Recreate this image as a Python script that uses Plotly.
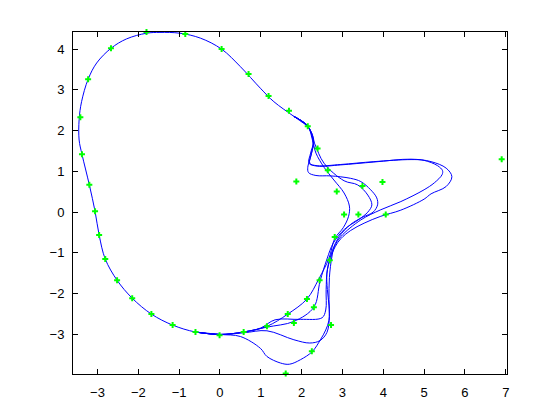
import plotly.graph_objects as go

# common body of the contour (from upper-right, over the top, down the left, to bottom)
body_x = [2.15, 1.81, 1.32, 0.99, 0.50, 0.04, -0.48, -0.98, -1.47, -1.80, -2.29, -2.67, -3.02, -3.23,
          -3.39, -3.45, -3.45, -3.38, -3.20, -3.06, -2.96, -2.81, -2.52, -2.15, -1.68, -1.16, -0.60, 0.00]
body_y = [2.11, 2.35, 2.71, 3.04, 3.57, 4.00, 4.27, 4.39, 4.41, 4.39, 4.25, 4.02, 3.66, 3.26,
          2.71, 2.27, 1.77, 1.42, 0.67, 0.02, -0.56, -1.15, -1.67, -2.11, -2.50, -2.77, -2.94, -3.00]

# variant parts (from bottom (0,-3) around the right side back to (2.15, 2.11))
v1_x = [0.58, 1.15, 1.66, 2.13, 2.42, 2.67, 2.81, 3.02, 3.15, 3.17, 3.04, 2.79, 2.55, 2.35, 2.27, 2.15]
v1_y = [-2.94, -2.80, -2.50, -2.13, -1.64, -1.13, -0.65, -0.38, -0.10, 0.15, 0.47, 0.79, 1.10, 1.45, 1.75, 2.11]

v2_x = [0.58, 1.15, 1.81, 2.30, 2.45, 2.62, 2.78, 3.05, 3.40, 3.62, 3.72, 3.62, 3.37, 3.04, 2.55, 2.32, 2.15]
v2_y = [-2.94, -2.82, -2.68, -2.33, -1.70, -1.15, -0.75, -0.42, -0.18, 0.00, 0.18, 0.42, 0.67, 0.77, 1.20, 1.68, 2.11]

v3_x = [0.58, 1.00, 1.35, 1.97, 2.50, 2.59, 2.60, 2.63, 2.75, 2.92, 3.20, 3.50, 3.75, 3.86, 3.84, 3.69,
        3.45, 3.20, 2.71, 2.35, 2.17, 2.15, 2.22, 2.28, 2.15]
v3_y = [-2.94, -2.84, -2.64, -2.63, -2.59, -2.40, -1.90, -1.40, -0.95, -0.60, -0.30, -0.12, 0.00, 0.18,
        0.35, 0.55, 0.75, 0.83, 0.89, 0.90, 0.97, 1.10, 1.35, 1.70, 2.11]

v4_x = [0.58, 1.15, 1.81, 2.20, 2.45, 2.62, 2.68, 2.67, 2.68, 2.74, 2.80, 2.96, 3.45, 3.94, 4.43, 5.00,
        5.25, 5.44, 5.45, 5.33, 5.00, 4.68, 3.77, 2.96, 2.38, 2.20, 2.24, 2.30, 2.15]
v4_y = [-2.96, -2.91, -3.13, -3.21, -3.15, -2.95, -2.56, -2.14, -1.60, -1.10, -0.85, -0.60, -0.19, 0.06,
        0.26, 0.55, 0.72, 0.92, 1.02, 1.14, 1.27, 1.29, 1.24, 1.17, 1.14, 1.20, 1.45, 1.75, 2.11]

v5_x = [0.50, 0.99, 1.15, 1.48, 1.70, 1.97, 2.26, 2.46, 2.59, 2.67, 2.67, 2.63, 2.62, 2.70, 2.82, 2.96,
        3.20, 3.53, 3.94, 4.43, 5.00, 5.17, 5.54, 5.68, 5.54, 5.17, 4.68, 3.77, 2.96, 2.38, 2.18, 2.22,
        2.29, 2.15]
v5_y = [-3.05, -3.34, -3.54, -3.70, -3.73, -3.62, -3.42, -3.13, -2.89, -2.65, -2.30, -1.90, -1.50, -1.15,
        -0.85, -0.65, -0.45, -0.27, -0.10, 0.05, 0.32, 0.45, 0.63, 0.87, 1.08, 1.24, 1.30, 1.23, 1.16,
        1.13, 1.20, 1.45, 1.75, 2.11]

# landmark points (green)
pts_x = [-1.80, -0.85, -2.67, 0.04, -3.23, 0.70, 1.19, 1.69, 2.15, -3.42, -3.38, -3.20, -3.06, 1.87,
         2.39, 2.64, 2.86, 3.49, 3.98, 3.04, 3.39, 4.06, 6.90, 2.81, 2.69, 2.44, 2.13, -2.96, -2.81,
         -2.52, -2.15, -1.68, -1.16, -0.60, -0.01, 0.58, 1.15, 1.66, 1.81, 2.30, 2.72, 2.25, 1.61]
pts_y = [4.42, 4.37, 4.02, 4.00, 3.26, 3.39, 2.85, 2.49, 2.11, 2.33, 1.42, 0.67, 0.02, 0.75,
         1.56, 1.03, 0.51, 0.64, 0.74, -0.06, -0.06, -0.06, 1.30, -0.61, -1.18, -1.67, -2.13, -0.56, -1.15,
         -1.67, -2.11, -2.50, -2.77, -2.94, -3.02, -2.94, -2.80, -2.50, -2.72, -2.33, -2.77, -3.41, -3.96]

x_ticks = [-3, -2, -1, 0, 1, 2, 3, 4, 5, 6, 7]
y_ticks = [-3, -2, -1, 0, 1, 2, 3, 4]

line_style = dict(color="#0000ff", width=1, shape="spline", smoothing=1.0)
fig = go.Figure()
# shared body drawn once
fig.add_trace(go.Scatter(x=body_x, y=body_y, mode="lines", line=line_style,
                         hoverinfo="skip", showlegend=False))
# each variant starts with the last body points and ends with the first ones, for smooth joins
for vx, vy in [(v1_x, v1_y), (v2_x, v2_y), (v3_x, v3_y), (v4_x, v4_y), (v5_x, v5_y)]:
    fig.add_trace(go.Scatter(x=body_x[-2:] + vx + body_x[1:2], y=body_y[-2:] + vy + body_y[1:2],
                             mode="lines", line=line_style, hoverinfo="skip", showlegend=False))
fig.add_trace(go.Scatter(x=pts_x, y=pts_y, mode="markers",
                         marker=dict(color="#00ff00", symbol="cross", size=5, line=dict(width=0)),
                         cliponaxis=False, hoverinfo="skip", showlegend=False))

axis_common = dict(showline=True, linecolor="black", linewidth=1, mirror="ticks", ticks="inside",
                   ticklen=5, tickcolor="black", showgrid=False, zeroline=False,
                   tickfont=dict(family="Liberation Sans, Arial", size=13, color="black"))
fig.update_xaxes(range=[-3.6, 7.03], tickvals=x_ticks, ticklabelstandoff=6, **axis_common)
fig.update_yaxes(range=[-3.97, 4.42], tickvals=y_ticks, ticklabelstandoff=5, **axis_common)
# page body has an 8px margin, so the figure is offset by 8px; margins compensate
fig.update_layout(width=544, height=404, autosize=False,
                  margin=dict(l=65, r=45, t=24, b=38, pad=0),
                  paper_bgcolor="white", plot_bgcolor="white")
fig.write_html("out.html")
